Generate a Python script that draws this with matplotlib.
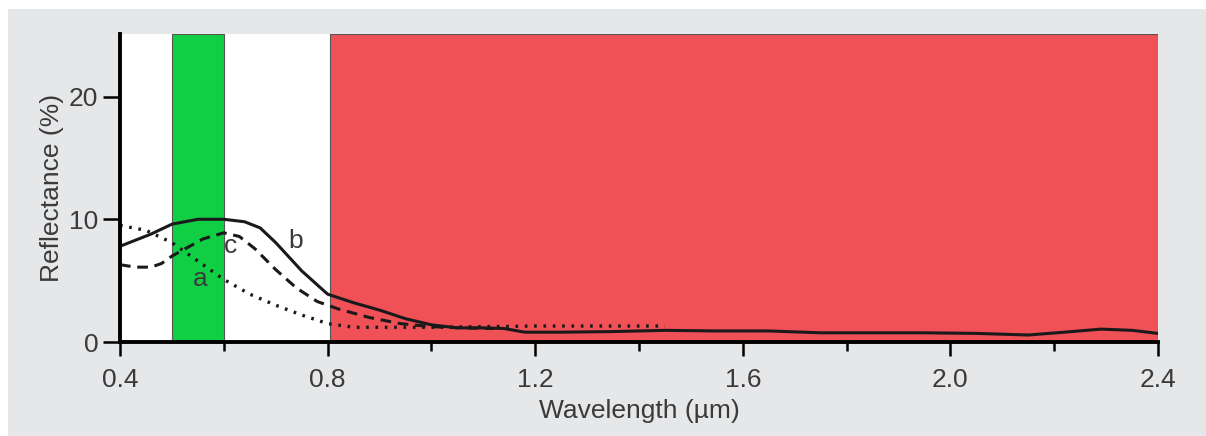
import matplotlib.pyplot as plt
import matplotlib.patches as patches

# band limits (micrometres)
green_band = [0.5, 0.6]
red_band = [0.805, 2.4]

# curve b (solid)
wl_b = [0.40, 0.46, 0.50, 0.55, 0.60, 0.64, 0.67, 0.70, 0.75, 0.80, 0.85, 0.90, 0.95, 1.00,
        1.05, 1.10, 1.14, 1.18, 1.25, 1.35, 1.45, 1.55, 1.65, 1.75, 1.85, 1.95, 2.05, 2.15,
        2.22, 2.29, 2.35, 2.40]
refl_b = [7.8, 8.8, 9.6, 10.0, 10.0, 9.8, 9.3, 8.1, 5.8, 3.9, 3.2, 2.6, 1.9, 1.4,
          1.15, 1.15, 1.1, 0.8, 0.8, 0.85, 0.95, 0.9, 0.9, 0.75, 0.75, 0.75, 0.7, 0.57,
          0.8, 1.05, 0.95, 0.7]

# curve c (dashed)
wl_c = [0.40, 0.43, 0.46, 0.48, 0.50, 0.53, 0.56, 0.60, 0.63, 0.66, 0.70, 0.74, 0.78, 0.82,
        0.88, 0.94, 1.00, 1.06, 1.12]
refl_c = [6.3, 6.1, 6.1, 6.4, 7.0, 7.7, 8.4, 8.9, 8.6, 7.6, 5.9, 4.4, 3.3, 2.7,
          2.0, 1.5, 1.25, 1.15, 1.1]

# curve a (dotted)
wl_a = [0.40, 0.45, 0.50, 0.55, 0.60, 0.65, 0.70, 0.75, 0.80, 0.85, 0.90, 1.00, 1.10, 1.20,
        1.30, 1.45]
refl_a = [9.5, 9.1, 8.1, 6.6, 5.1, 3.9, 3.0, 2.2, 1.5, 1.2, 1.2, 1.2, 1.25, 1.3, 1.3, 1.3]

curve_labels = ['a', 'b', 'c']
label_pos = [(0.554, 5.1), (0.739, 8.2), (0.612, 7.8)]

xticks = [0.4, 0.8, 1.2, 1.6, 2.0, 2.4]
xtick_labels = ['0.4', '0.8', '1.2', '1.6', '2.0', '2.4']
yticks = [0, 10, 20]

plt.rcParams['font.family'] = ['Liberation Sans', 'DejaVu Sans']
txt = '#3a3a3a'

fig = plt.figure(figsize=(12.06, 4.36), dpi=100, facecolor='white')
panel = patches.Rectangle((8 / 1206, 0), 1, 427 / 436, transform=fig.transFigure,
                          facecolor='#e6e7e9', edgecolor='none', zorder=-10)
fig.add_artist(panel)

ax = fig.add_axes([120 / 1206, 94 / 436, 1038 / 1206, 308 / 436])
ax.set_zorder(1)
ax.set_facecolor('white')

ax.axvspan(green_band[0], green_band[1], facecolor='#11cf45', edgecolor='#555555', lw=0.8, zorder=1)
ax.axvspan(red_band[0], red_band[1], facecolor='#ef5157', edgecolor='#555555', lw=0.8, zorder=1)

ax.plot(wl_b, refl_b, color='#1a1a1a', lw=2.2, zorder=3)
ax.plot(wl_c, refl_c, color='#1a1a1a', lw=2.2, linestyle=(0, (3.5, 2.2)), zorder=3)
ax.plot(wl_a, refl_a, color='#1a1a1a', lw=2.4, linestyle=(0, (0.8, 2.0)), zorder=3)

for lab, (x, y) in zip(curve_labels, label_pos):
    ax.text(x, y, lab, fontsize=19, color=txt, ha='center', va='center', zorder=4)

ax.set_xlim(0.4, 2.4)
ax.set_ylim(0, 25.1)
ax.set_xticks(xticks)
ax.set_xticklabels(xtick_labels)
ax.set_xticks([0.6, 1.0, 1.4, 1.8, 2.2], minor=True)
ax.set_yticks(yticks)

for side in ['top', 'right']:
    ax.spines[side].set_visible(False)
for side in ['left', 'bottom']:
    ax.spines[side].set_linewidth(2.8)
    ax.spines[side].set_color('black')
    ax.spines[side].set_zorder(5)

ax.tick_params(axis='x', which='major', direction='out', length=10, width=1.8,
               color='black', labelsize=19, labelcolor=txt, pad=9)
ax.tick_params(axis='y', which='major', direction='out', length=12.5, width=1.8,
               color='black', labelsize=19, labelcolor=txt, pad=3)
ax.tick_params(axis='x', which='minor', direction='out', length=6.5, width=1.8, color='black')

ax.set_xlabel('Wavelength (µm)', fontsize=19, color=txt, labelpad=5)
ax.set_ylabel('Reflectance (%)', fontsize=19, color=txt, labelpad=4)

fig.savefig('out.png', dpi=100, facecolor=fig.get_facecolor())
